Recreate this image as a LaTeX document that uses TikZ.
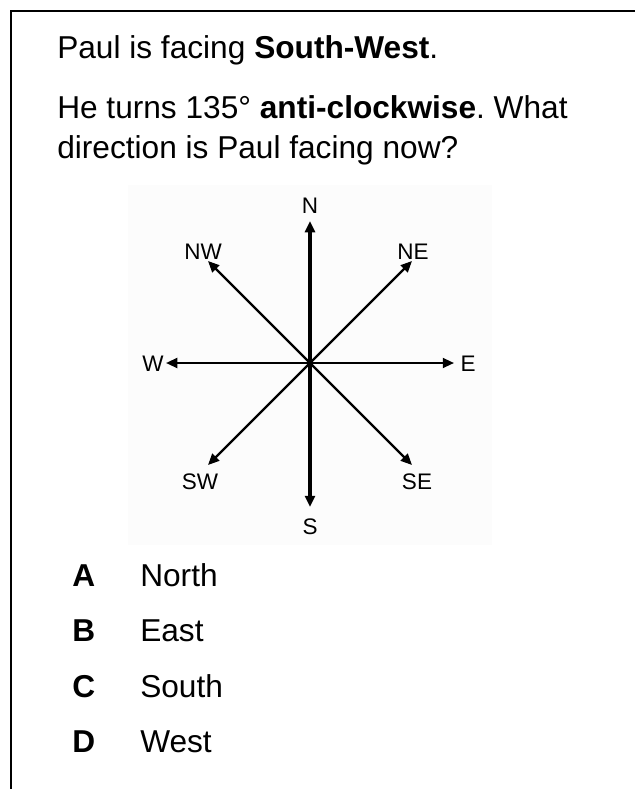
\documentclass[tikz,border=0pt]{standalone}
\usepackage{fontspec}
\setmainfont{Liberation Sans}
\frenchspacing
\usetikzlibrary{arrows.meta}
\tikzset{
  bodytext/.style={anchor=base west, inner sep=0pt, font=\fontsize{22.5}{27}\selectfont},
  dirlabel/.style={inner sep=0pt, font=\fontsize{16}{19}\selectfont},
  compassarrow/.style={line width=1.6pt, -{Triangle[length=8pt,width=7pt]}},
}
\begin{document}
\begin{tikzpicture}[x=0.025cm, y=-0.025cm]
					\useasboundingbox (0,0) rectangle (635,789);
					% frame
					\draw[line width=1.6pt] (11,789) -- (11,11) -- (635,11);

					% question
					\node[bodytext] (q1) at (57,58) {Paul is facing \textbf{South-West}.};
					\node[bodytext] (q2) at (57,118) {He turns 135° \textbf{anti-clockwise}. What};
					\node[bodytext] (q3) at (57,158) {direction is Paul facing now?};

					% compass
					\fill[black!1] (128,185) rectangle (492,545);
					\coordinate (c) at (310,363);
					\coordinate (n) at (310,221);
					\coordinate (s) at (310,507);
					\coordinate (e) at (454,363);
					\coordinate (w) at (166,363);
					\coordinate (ne) at (412,261);
					\coordinate (nw) at (208,261);
					\coordinate (se) at (412,465);
					\coordinate (sw) at (208,465);

					\draw[compassarrow, line width=2.4pt] (c) -- (n);
					\draw[compassarrow, line width=2.4pt] (c) -- (s);
					\draw[compassarrow] (c) -- (e);
					\draw[compassarrow] (c) -- (w);
					\draw[compassarrow] (c) -- (ne);
					\draw[compassarrow] (c) -- (nw);
					\draw[compassarrow] (c) -- (se);
					\draw[compassarrow] (c) -- (sw);
					\fill (c) circle (2pt);

					\node[dirlabel] (ln) at (310,206) {N};
					\node[dirlabel] (ls) at (310,527) {S};
					\node[dirlabel] (le) at (468,364) {E};
					\node[dirlabel] (lw) at (153,364) {W};
					\node[dirlabel] (lne) at (413,252) {NE};
					\node[dirlabel] (lnw) at (203,252) {NW};
					\node[dirlabel] (lse) at (417,482) {SE};
					\node[dirlabel] (lsw) at (200,482) {SW};

					% answers
					\node[bodytext] (ka) at (72,586) {\textbf{A}};
					\node[bodytext] (aa) at (140,586) {North};
					\node[bodytext] (kb) at (72,641) {\textbf{B}};
					\node[bodytext] (ab) at (140,641) {East};
					\node[bodytext] (kc) at (72,697) {\textbf{C}};
					\node[bodytext] (ac) at (140,697) {South};
					\node[bodytext] (kd) at (72,752) {\textbf{D}};
					\node[bodytext] (ad) at (140,752) {West};
				\end{tikzpicture}
\end{document}
